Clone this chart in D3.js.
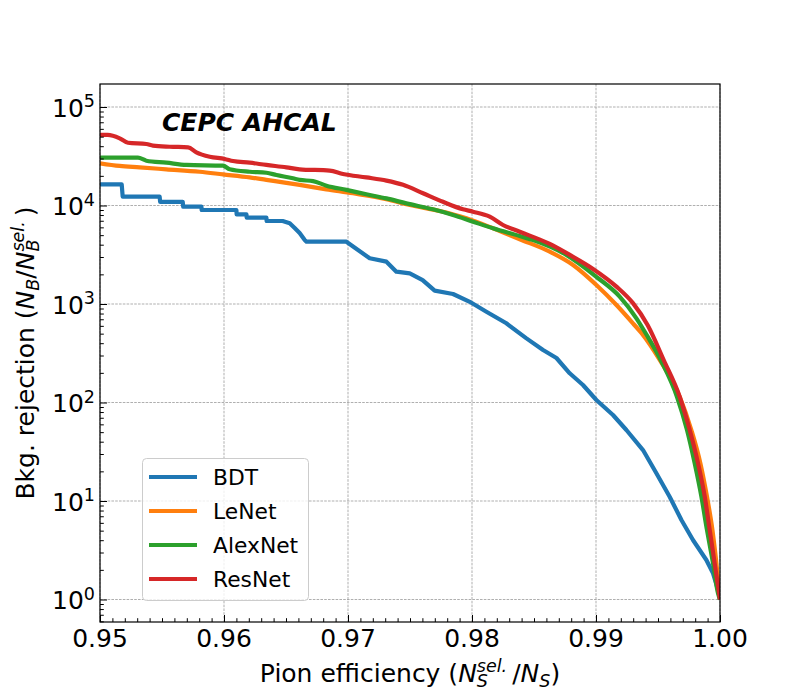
<!DOCTYPE html>
<html>
<head>
<meta charset="utf-8">
<script src="https://cdn.jsdelivr.net/npm/d3@7"></script>
<style>
  html, body { margin: 0; padding: 0; background: #fff; }
  svg { display: block; }
  text { font-family: "DejaVu Sans", sans-serif; fill: #000; }
</style>
</head>
<body>
<svg id="chart" width="800" height="700"></svg>
<script>
// ---------------- data ----------------
const seriesNames = ["BDT", "LeNet", "AlexNet", "ResNet"];
const seriesColors = ["#1f77b4", "#ff7f0e", "#2ca02c", "#d62728"];

const bdtEff = [0.95000, 0.95175, 0.95183, 0.95481, 0.95485, 0.95667, 0.95671, 0.95818, 0.95820, 0.96100,
  0.96102, 0.96181, 0.96183, 0.96342, 0.96344, 0.96473, 0.96530, 0.96570, 0.96610, 0.96651,
  0.96665, 0.96987, 0.97175, 0.97310, 0.97390, 0.97498, 0.97602, 0.97699, 0.97847, 0.97995,
  0.98116, 0.98277, 0.98439, 0.98573, 0.98681, 0.98788, 0.98895, 0.99003, 0.99137, 0.99245,
  0.99379, 0.99487, 0.99594, 0.99689, 0.99782, 0.99890, 0.99944, 0.99984, 1.00000];
const bdtRej = [16400, 16400, 12300, 12300, 10900, 10900, 9720, 9720, 9000, 9000,
  8140, 8140, 7520, 7520, 6960, 6960, 6600, 5910, 5260, 4460,
  4290, 4290, 2910, 2690, 2130, 2050, 1750, 1365, 1264, 1031,
  835, 637, 448, 341, 283, 198, 150.5, 106, 74.7, 52.6,
  32.9, 19.1, 11.06, 6.41, 4.02, 2.52, 1.845, 1.25, 1.0];

const lenetEff = [0.95000, 0.95159, 0.95320, 0.95535, 0.95804, 0.95992, 0.96207, 0.96342, 0.96503, 0.96610,
  0.96826, 0.97040, 0.97310, 0.97498, 0.97740, 0.97955, 0.98169, 0.98385, 0.98627, 0.98815,
  0.99003, 0.99165, 0.99298, 0.99366, 0.99514, 0.99675, 0.99769, 0.99842, 0.99895, 0.99939,
  0.99971, 1.00000];
const lenetRej = [26800, 25200, 24400, 23300, 22000, 20700, 19300, 18200, 17000, 16200,
  14600, 13300, 11600, 10100, 8800, 7420, 5870, 4540, 3400, 2490,
  1560, 977, 637, 508, 270, 114.5, 52.6, 24.1, 11.06, 5.08,
  2.33, 1.0];

const alexEff = [0.95000, 0.95306, 0.95374, 0.95535, 0.95697, 0.95992, 0.96046, 0.96207, 0.96342, 0.96423,
  0.96556, 0.96610, 0.96718, 0.96826, 0.96987, 0.97148, 0.97310, 0.97471, 0.97685, 0.97847,
  0.98008, 0.98169, 0.98385, 0.98492, 0.98761, 0.99003, 0.99191, 0.99326, 0.99409, 0.99530,
  0.99653, 0.99734, 0.99796, 0.99850, 0.99895, 0.99944, 0.99984, 1.00000];
const alexRej = [30600, 30600, 28500, 27200, 25800, 25400, 23300, 22000, 21500, 20400,
  18900, 18200, 17700, 15900, 14400, 13000, 11800, 10500, 9150, 8010,
  6850, 5870, 4900, 4460, 3150, 1890, 1190, 716, 484, 258,
  114.5, 52.6, 24.1, 11.06, 5.08, 2.33, 1.156, 1.0];

const resEff = [0.95000, 0.95062, 0.95159, 0.95226, 0.95374, 0.95427, 0.95562, 0.95710, 0.95777, 0.95885,
  0.96006, 0.96073, 0.96207, 0.96342, 0.96503, 0.96610, 0.96852, 0.96960, 0.97148, 0.97310,
  0.97444, 0.97605, 0.97766, 0.97927, 0.98008, 0.98143, 0.98250, 0.98385, 0.98627, 0.98788,
  0.98976, 0.99165, 0.99298, 0.99417, 0.99546, 0.99675, 0.99756, 0.99823, 0.99877, 0.99917,
  0.99957, 1.00000];
const resRej = [52000, 52000, 48100, 43400, 42100, 40500, 39500, 39000, 34700, 31300,
  29700, 28300, 27200, 25800, 24400, 23300, 22600, 20900, 19300, 17900,
  16200, 13300, 10900, 9150, 8650, 7700, 6340, 5420, 4070, 3150,
  2270, 1500, 1020, 608, 270, 114.5, 52.6, 24.1, 11.06, 5.08,
  2.33, 1.0];

const xTicks = [0.95, 0.96, 0.97, 0.98, 0.99, 1.00];
const xTickLabels = ["0.95", "0.96", "0.97", "0.98", "0.99", "1.00"];
const yTicks = [1, 10, 100, 1000, 10000, 100000];
const yTickExps = ["0", "1", "2", "3", "4", "5"];
const titleText = "CEPC AHCAL";

// ---------------- layout ----------------
const svg = d3.select("#chart");
const L = 100, R = 720, T = 84, B = 622;
const x = d3.scaleLinear().domain([0.95, 1.0]).range([L, R]);
const y = d3.scaleLog().domain([0.591, 171200]).range([B, T]);

svg.append("rect").attr("width", 800).attr("height", 700).attr("fill", "#fff");

// grid
const grid = svg.append("g");
xTicks.forEach(v => {
  grid.append("line").attr("x1", x(v)).attr("x2", x(v)).attr("y1", T).attr("y2", B)
    .attr("stroke", "#8c8c8c").attr("stroke-width", 0.7).attr("stroke-dasharray", "2.6,1.2");
});
yTicks.forEach(v => {
  grid.append("line").attr("x1", L).attr("x2", R).attr("y1", y(v)).attr("y2", y(v))
    .attr("stroke", "#8c8c8c").attr("stroke-width", 0.7).attr("stroke-dasharray", "2.6,1.2");
});

// curves
const series = [
  {eff: bdtEff, rej: bdtRej, curve: d3.curveLinear},
  {eff: lenetEff, rej: lenetRej, curve: d3.curveMonotoneX},
  {eff: alexEff, rej: alexRej, curve: d3.curveMonotoneX},
  {eff: resEff, rej: resRej, curve: d3.curveMonotoneX}
];
svg.append("clipPath").attr("id", "clip").append("rect")
  .attr("x", L).attr("y", T).attr("width", R - L).attr("height", B - T);
const lines = svg.append("g").attr("clip-path", "url(#clip)");
series.forEach((s, i) => {
  const pts = s.eff.map((e, k) => [e, s.rej[k]]);
  const gen = d3.line().x(d => x(d[0])).y(d => y(d[1])).curve(s.curve);
  lines.append("path").attr("d", gen(pts)).attr("fill", "none")
    .attr("stroke", seriesColors[i]).attr("stroke-width", 4.2)
    .attr("stroke-linejoin", "round").attr("stroke-linecap", "butt");
});

// axes (ticks inward, left + bottom)
const xAxis = d3.axisBottom(x).tickValues(xTicks).tickSizeInner(-7).tickSizeOuter(0).tickFormat("");
const gx = svg.append("g").attr("transform", `translate(0,${B})`).call(xAxis);
const xMinor = d3.range(951, 1000).filter(v => v % 10 !== 0).map(v => v / 1000);
const gxm = svg.append("g").attr("transform", `translate(0,${B})`)
  .call(d3.axisBottom(x).tickValues(xMinor).tickSizeInner(-3.8).tickSizeOuter(0).tickFormat(""));
const yAxis = d3.axisLeft(y).tickValues(yTicks).tickSizeInner(-7).tickSizeOuter(0).tickFormat("");
const gy = svg.append("g").attr("transform", `translate(${L},0)`).call(yAxis);
const yMinor = [];
[0.1, 1, 10, 100, 1000, 10000].forEach(d => { for (let m = 2; m <= 9; m++) { const v = m * d; if (v >= 0.591 && v <= 171200) yMinor.push(v); } });
const gym = svg.append("g").attr("transform", `translate(${L},0)`)
  .call(d3.axisLeft(y).tickValues(yMinor).tickSizeInner(-3.8).tickSizeOuter(0).tickFormat(""));
[gx, gxm, gy, gym].forEach(g => {
  g.select(".domain").remove();
  g.selectAll(".tick line").attr("stroke", "#000").attr("stroke-width", 1);
});

// frame
svg.append("rect").attr("x", L).attr("y", T).attr("width", R - L).attr("height", B - T)
  .attr("fill", "none").attr("stroke", "#000").attr("stroke-width", 1.2);

// tick labels
xTicks.forEach((v, i) => {
  svg.append("text").attr("x", x(v)).attr("y", 647).attr("text-anchor", "middle")
    .attr("font-size", 25).text(xTickLabels[i]);
});
yTicks.forEach((v, i) => {
  const t = svg.append("text").attr("y", y(v) + 9.5).attr("font-size", 25);
  t.append("tspan").text("10");
  t.append("tspan").attr("font-size", 17.5).attr("dy", -9.5).text(yTickExps[i]);
  const w = t.node().getBBox().width;
  t.attr("x", 95 - w);
  t.select("tspan").attr("x", 95 - w);
});

// math-style label helper
function mathLabel(parent, parts, size) {
  const t = parent.append("text").attr("x", 0).attr("y", 0).attr("font-size", size);
  let cur = 0;
  let lastWidth = 0;
  parts.forEach(p => {
    const shift = p.shift || 0;
    const ts = t.append("tspan").text(p.t);
    ts.attr("dy", shift - cur);
    cur = shift;
    if (p.it) ts.attr("font-style", "italic");
    if (p.small) ts.attr("font-size", size * 0.7);
    if (p.back) ts.attr("dx", -lastWidth);
    lastWidth = ts.node().getComputedTextLength();
  });
  return t;
}
function subsupParts(base, sub, sup) {
  return [
    {t: base, it: true},
    {t: sub, it: true, small: true, shift: 4.7},
    {t: sup, it: true, small: true, shift: -10.3, back: true}
  ];
}

// x label
const xl = svg.append("g");
const xlt = mathLabel(xl, [
  {t: "Pion efficiency ("},
  ...subsupParts("N", "S", "sel."),
  {t: "\u2009/", shift: 0},
  {t: "N", it: true},
  {t: "S", it: true, small: true, shift: 4.7},
  {t: ")", shift: 0}
], 25);
{
  const bb = xlt.node().getBBox();
  xl.attr("transform", `translate(${(L + R) / 2 - bb.width / 2 - bb.x},682)`);
}

// y label
const yl = svg.append("g");
const ylt = mathLabel(yl, [
  {t: "Bkg. rejection ("},
  {t: "N", it: true},
  {t: "B", it: true, small: true, shift: 4.7},
  {t: "/", shift: 0},
  ...subsupParts("N", "B", "sel."),
  {t: "\u2009)", shift: 0}
], 25);
{
  const bb = ylt.node().getBBox();
  yl.attr("transform", `translate(34,${(T + B) / 2}) rotate(-90) translate(${-bb.width / 2 - bb.x},0)`);
}

// title
svg.append("text").attr("x", 162).attr("y", 130.5).attr("font-size", 25)
  .attr("font-weight", "bold").attr("font-style", "italic").text(titleText);

// legend
const lg = svg.append("g");
lg.append("rect").attr("x", 142.5).attr("y", 458.5).attr("width", 166).attr("height", 142)
  .attr("rx", 4).attr("fill", "#fff").attr("fill-opacity", 0.8)
  .attr("stroke", "#cccccc").attr("stroke-width", 1);
seriesNames.forEach((n, i) => {
  const cy = 477 + i * 34;
  lg.append("line").attr("x1", 149).attr("x2", 197).attr("y1", cy).attr("y2", cy)
    .attr("stroke", seriesColors[i]).attr("stroke-width", 4.2);
  lg.append("text").attr("x", 213).attr("y", cy + 8).attr("font-size", 21.8).text(n);
});
</script>
</body>
</html>
